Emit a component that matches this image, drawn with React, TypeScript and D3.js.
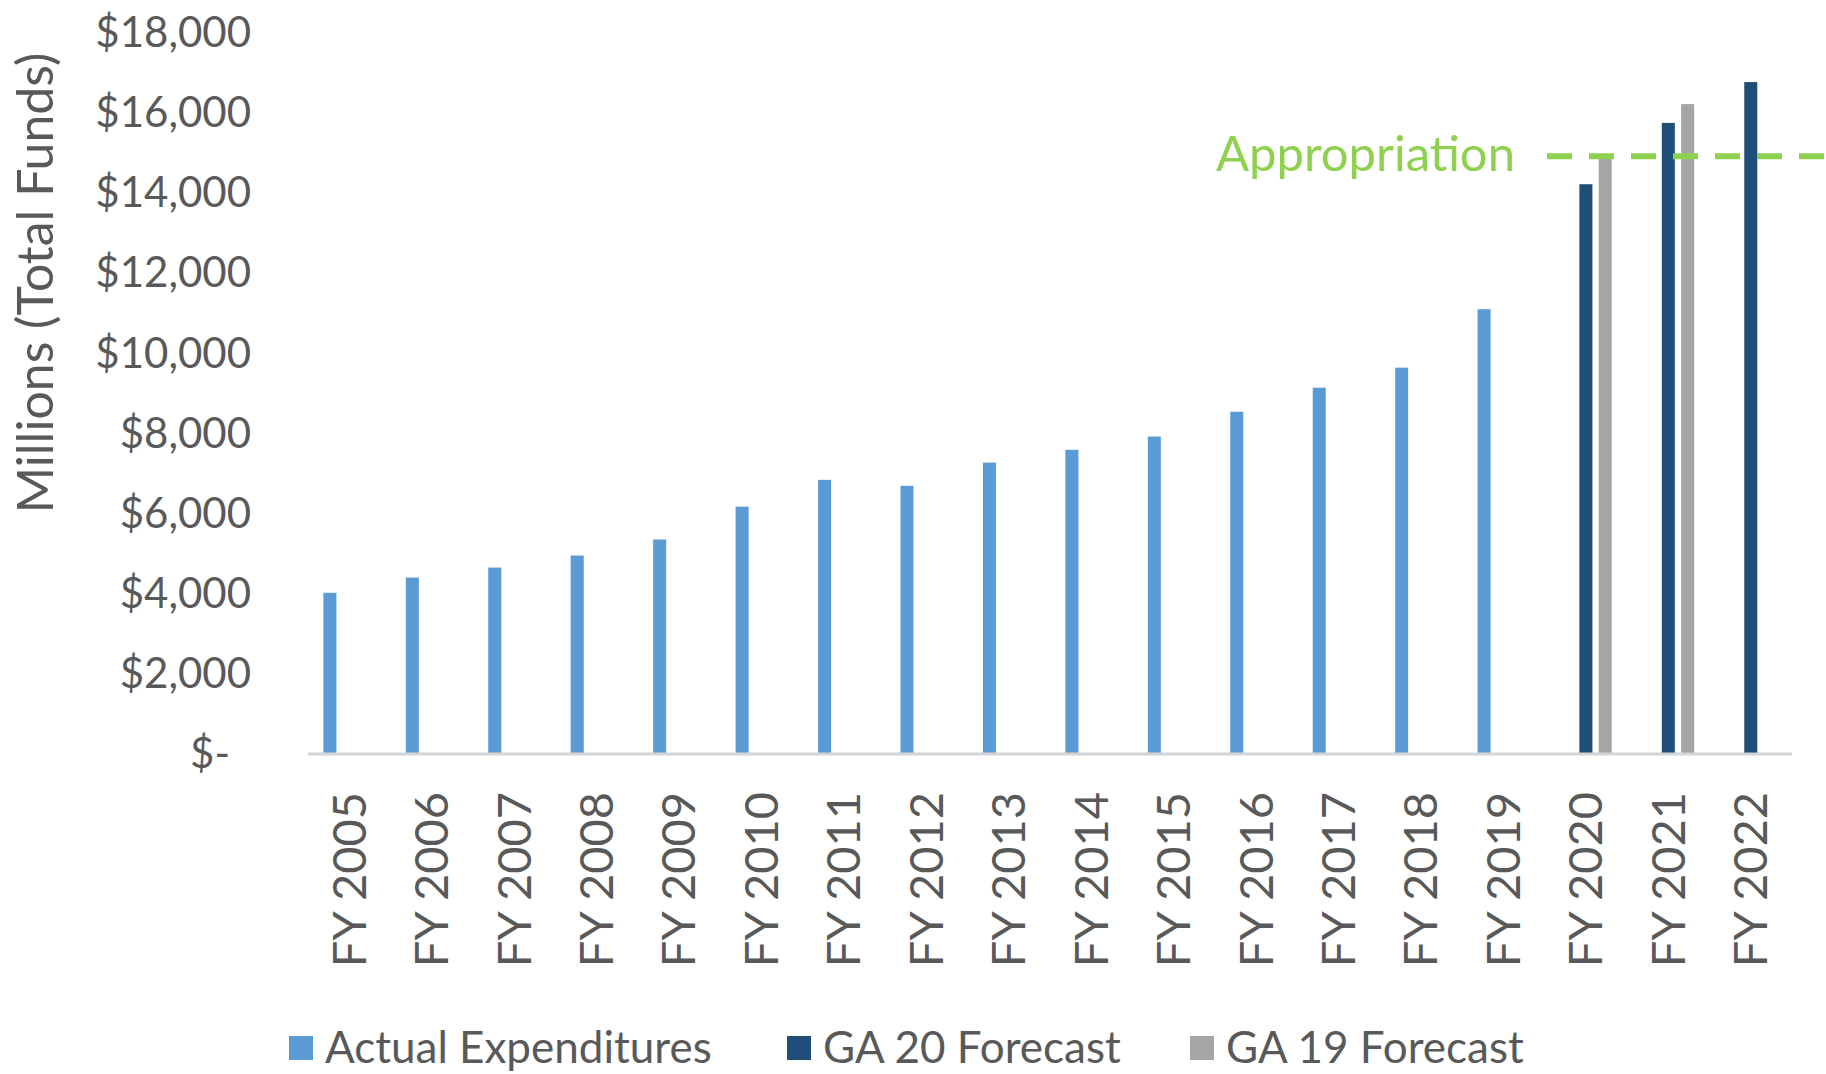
import React, { useEffect, useRef } from "react";
import * as d3 from "d3";

const categories = [
  "FY 2005", "FY 2006", "FY 2007", "FY 2008", "FY 2009", "FY 2010",
  "FY 2011", "FY 2012", "FY 2013", "FY 2014", "FY 2015", "FY 2016",
  "FY 2017", "FY 2018", "FY 2019", "FY 2020", "FY 2021", "FY 2022",
];
const actualExpenditures: (number | null)[] = [
  4000, 4380, 4630, 4930, 5330, 6150, 6820, 6670, 7250, 7570, 7900, 8520,
  9120, 9620, 11080, null, null, null,
];
const ga20Forecast: (number | null)[] = [
  null, null, null, null, null, null, null, null, null, null, null, null,
  null, null, null, 14200, 15730, 16750,
];
const ga19Forecast: (number | null)[] = [
  null, null, null, null, null, null, null, null, null, null, null, null,
  null, null, null, 14850, 16200, null,
];
const seriesNames = ["Actual Expenditures", "GA 20 Forecast", "GA 19 Forecast"];
const seriesColors = ["#5b9bd5", "#1f4e79", "#a5a5a5"];
const yTicks = [0, 2000, 4000, 6000, 8000, 10000, 12000, 14000, 16000, 18000];
const appropriation = 14900;
const appropriationLabel = "Appropriation";
const yAxisTitle = "Millions (Total Funds)";

const W = 1826;
const H = 1074;
const FONT = "Lato, 'Open Sans', sans-serif";
const TEXT = "#595959";

export default function App() {
  const ref = useRef<SVGSVGElement>(null);

  useEffect(() => {
    const svg = d3.select(ref.current);
    svg.selectAll("*").remove();

    const x0 = d3.scaleBand<string>().domain(categories).range([308, 1792]).padding(0);
    const groupW = 58;
    const x1 = d3
      .scaleBand<string>()
      .domain(seriesNames)
      .range([0, groupW])
      .paddingInner(0.326)
      .paddingOuter(0.163);
    const y = d3.scaleLinear().domain([0, 18000]).range([753, 32]);

    const data = [actualExpenditures, ga20Forecast, ga19Forecast];

    // y tick labels
    const gy = svg.append("g");
    gy.selectAll("text")
      .data(yTicks)
      .join("text")
      .attr("x", (d) => (d === 0 ? 230 : 251))
      .attr("y", (d) => y(d))
      .attr("dy", "0.36em")
      .attr("text-anchor", "end")
      .attr("font-family", FONT)
      .attr("font-size", 42)
      .attr("fill", TEXT)
      .text((d) => (d === 0 ? "$-" : "$" + d3.format(",")(d)));

    // y axis title
    svg
      .append("text")
      .attr("transform", `translate(53,283) rotate(-90)`)
      .attr("text-anchor", "middle")
      .attr("font-family", FONT)
      .attr("font-size", 50)
      .attr("fill", TEXT)
      .text(yAxisTitle);

    // bars
    data.forEach((vals, si) => {
      svg
        .append("g")
        .selectAll("rect")
        .data(categories.map((c, i) => ({ c, v: vals[i] })).filter((d) => d.v != null))
        .join("rect")
        .attr("x", (d) => (x0(d.c) as number) + x0.bandwidth() / 2 - groupW / 2 + (x1(seriesNames[si]) as number))
        .attr("width", x1.bandwidth())
        .attr("y", (d) => y(d.v as number))
        .attr("height", (d) => y(0) - y(d.v as number))
        .attr("fill", seriesColors[si]);
    });

    // baseline axis
    svg
      .append("line")
      .attr("x1", 308)
      .attr("x2", 1792)
      .attr("y1", y(0) + 1)
      .attr("y2", y(0) + 1)
      .attr("stroke", "#d4d4d4")
      .attr("stroke-width", 3);

    // x labels
    svg
      .append("g")
      .selectAll("text")
      .data(categories)
      .join("text")
      .attr("transform", (d) => `translate(${(x0(d) as number) + x0.bandwidth() / 2},792) rotate(-90)`)
      .attr("dy", "0.35em")
      .attr("text-anchor", "end")
      .attr("font-family", FONT)
      .attr("font-size", 47)
      .attr("fill", TEXT)
      .text((d) => d);

    // appropriation line
    svg
      .append("line")
      .attr("x1", 1547)
      .attr("x2", W)
      .attr("y1", y(appropriation))
      .attr("y2", y(appropriation))
      .attr("stroke", "#8fd14f")
      .attr("stroke-width", 6)
      .attr("stroke-dasharray", "25 17");
    svg
      .append("text")
      .attr("x", 1515)
      .attr("y", 171)
      .attr("text-anchor", "end")
      .attr("font-family", FONT)
      .attr("font-size", 49)
      .attr("fill", "#8fd14f")
      .text(appropriationLabel);

    // legend
    const legendX = [289, 787, 1190];
    const lg = svg.append("g");
    seriesNames.forEach((name, i) => {
      lg.append("rect")
        .attr("x", legendX[i])
        .attr("y", 1036)
        .attr("width", 24)
        .attr("height", 24)
        .attr("fill", seriesColors[i]);
      lg.append("text")
        .attr("x", legendX[i] + 36)
        .attr("y", 1063)
        .attr("font-family", FONT)
        .attr("font-size", 44)
        .attr("fill", TEXT)
        .text(name);
    });
  }, []);

  return (
    <svg
      ref={ref}
      width={W}
      height={H}
      style={{ position: "absolute", left: 0, top: 0, display: "block", background: "#fff" }}
    />
  );
}
